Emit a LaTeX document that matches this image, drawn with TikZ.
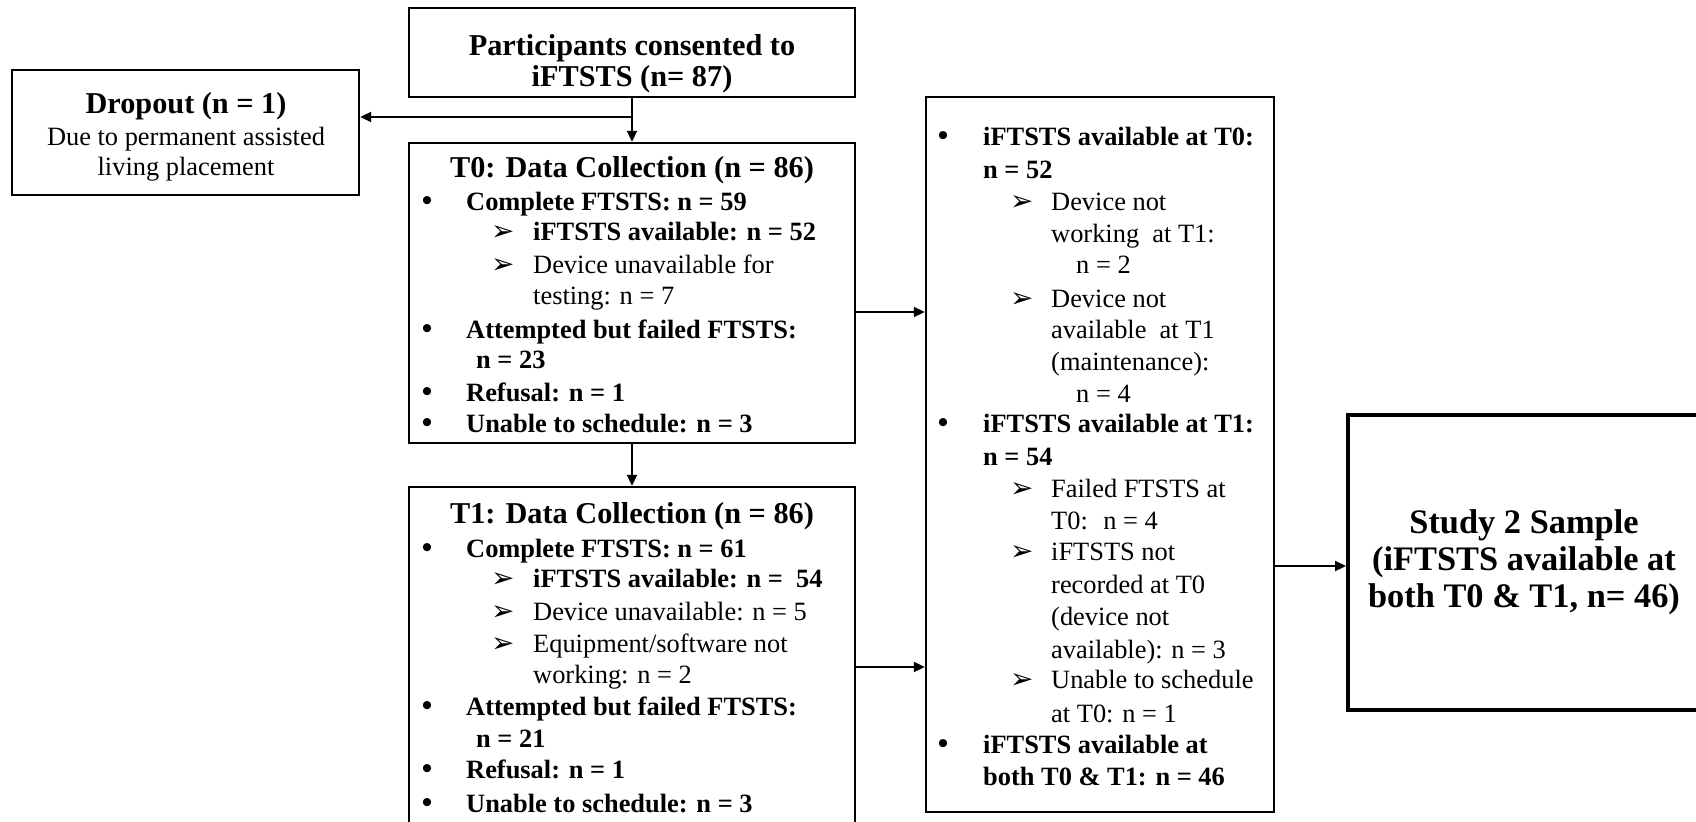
\documentclass[tikz,border=0pt]{standalone}
\usepackage{fontspec}
\setmainfont{Liberation Serif}
\newfontfamily\dvsans{DejaVu Sans}
\usetikzlibrary{arrows.meta}
\newcommand\bodyfnt{\fontsize{26.5}{31.7}\selectfont}
\newcommand\bulfnt{\fontsize{30}{31.7}\selectfont\bfseries}
\newcommand\ttlfnt{\fontsize{30.4}{31}\selectfont\bfseries}
\newcommand\bigfnt{\fontsize{34.5}{37}\selectfont\bfseries}
\newcommand\arrfnt{\dvsans\fontsize{28}{28}\selectfont}
\tikzset{
  box/.style={draw, rectangle, line width=2.4bp, inner sep=0pt},
  thickbox/.style={box, line width=4bp},
  arr/.style={line width=2bp, -{Triangle[length=11bp,width=10bp]}},
  rtxt/.style={anchor=base west, inner sep=0pt, font=\bodyfnt},
  btxt/.style={anchor=base west, inner sep=0pt, font=\bodyfnt\bfseries},
  ttl/.style={anchor=base, inner sep=0pt, font=\ttlfnt},
  ctxt/.style={anchor=base, inner sep=0pt, font=\bodyfnt},
  big/.style={anchor=base, inner sep=0pt, font=\bigfnt},
  bul/.style={anchor=base, inner sep=0pt, font=\bulfnt},
  arw/.style={anchor=base west, inner sep=0pt, font=\arrfnt}
}
\begin{document}
\begin{tikzpicture}[x=1bp,y=-1bp]
\useasboundingbox (0,0) rectangle (1696,822);
\clip (0,0) rectangle (1696,822);

% boxes
\node[box, minimum width=446bp, minimum height=89bp] (top) at (632,52.5) {};
\node[box, minimum width=347bp, minimum height=125bp] (drop) at (185.5,132.5) {};
\node[box, minimum width=446bp, minimum height=300bp] (t0) at (632,293) {};
\node[box, minimum width=446bp, minimum height=343bp] (t1) at (632,658.5) {};
\node[box, minimum width=348bp, minimum height=715bp] (mid) at (1100,454.5) {};
\node[thickbox, minimum width=352bp, minimum height=295bp] (study) at (1524,562.5) {};

% top box text
\node[ttl] (p1) at (632,56) {Participants consented to};
\node[ttl] (p2) at (632,86) {iFTSTS (n= 87)};

% dropout text
\node[ttl] (d1) at (186,113) {Dropout (n = 1)};
\node[ctxt] (d2) at (186,145) {Due to permanent assisted};
\node[ctxt] (d3) at (186,175) {living placement};

% T0 box text
\node[ttl] (a0) at (632,177) {T0: Data Collection (n = 86)};
\node[bul] (ab1) at (427,210) {•};
\node[btxt] (a1) at (466,210) {Complete FTSTS: n = 59};
\node[arw] (aa2) at (491,240) {➢};
\node[btxt] (a2) at (533,240) {iFTSTS available: n = 52};
\node[arw] (aa3) at (491,273) {➢};
\node[rtxt] (a3) at (533,273) {Device unavailable for};
\node[rtxt] (a4) at (533,304) {testing: n = 7};
\node[bul] (ab5) at (427,338) {•};
\node[btxt] (a5) at (466,338) {Attempted but failed FTSTS:};
\node[btxt] (a6) at (476,368) {n = 23};
\node[bul] (ab7) at (427,401) {•};
\node[btxt] (a7) at (466,401) {Refusal: n = 1};
\node[bul] (ab8) at (427,432) {•};
\node[btxt] (a8) at (466,432) {Unable to schedule: n = 3};

% T1 box text
\node[ttl] (b0) at (632,523) {T1: Data Collection (n = 86)};
\node[bul] (bb1) at (427,557) {•};
\node[btxt] (b1) at (466,557) {Complete FTSTS: n = 61};
\node[arw] (ba2) at (491,587) {➢};
\node[btxt] (b2) at (533,587) {iFTSTS available: n = \ 54};
\node[arw] (ba3) at (491,620) {➢};
\node[rtxt] (b3) at (533,620) {Device unavailable: n = 5};
\node[arw] (ba4) at (491,652) {➢};
\node[rtxt] (b4) at (533,652) {Equipment/software not};
\node[rtxt] (b5) at (533,683) {working: n = 2};
\node[bul] (bb6) at (427,715) {•};
\node[btxt] (b6) at (466,715) {Attempted but failed FTSTS:};
\node[btxt] (b7) at (476,747) {n = 21};
\node[bul] (bb8) at (427,778) {•};
\node[btxt] (b8) at (466,778) {Refusal: n = 1};
\node[bul] (bb9) at (427,812) {•};
\node[btxt] (b9) at (466,812) {Unable to schedule: n = 3};

% middle box text
\node[bul] (cb1) at (943,145) {•};
\node[btxt] (c1) at (983,145) {iFTSTS available at T0:};
\node[btxt] (c2) at (983,178) {n = 52};
\node[arw] (ca3) at (1010,210) {➢};
\node[rtxt] (c3) at (1051,210) {Device not};
\node[rtxt] (c4) at (1051,242) {working \ at T1:};
\node[rtxt] (c5) at (1076,273) {n = 2};
\node[arw] (ca6) at (1010,307) {➢};
\node[rtxt] (c6) at (1051,307) {Device not};
\node[rtxt] (c7) at (1051,338) {available \ at T1};
\node[rtxt] (c8) at (1051,370) {(maintenance):};
\node[rtxt] (c9) at (1076,402) {n = 4};
\node[bul] (cb10) at (943,432) {•};
\node[btxt] (c10) at (983,432) {iFTSTS available at T1:};
\node[btxt] (c11) at (983,465) {n = 54};
\node[arw] (ca12) at (1010,497) {➢};
\node[rtxt] (c12) at (1051,497) {Failed FTSTS at};
\node[rtxt] (c13) at (1051,529) {T0: \ n = 4};
\node[arw] (ca14) at (1010,560) {➢};
\node[rtxt] (c14) at (1051,560) {iFTSTS not};
\node[rtxt] (c15) at (1051,593) {recorded at T0};
\node[rtxt] (c16) at (1051,625) {(device not};
\node[rtxt] (c17) at (1051,658) {available): n = 3};
\node[arw] (ca18) at (1010,688) {➢};
\node[rtxt] (c18) at (1051,688) {Unable to schedule};
\node[rtxt] (c19) at (1051,722) {at T0: n = 1};
\node[bul] (cb20) at (943,753) {•};
\node[btxt] (c20) at (983,753) {iFTSTS available at};
\node[btxt] (c21) at (983,785) {both T0 \& T1: n = 46};

% study box text
\node[big] (s1) at (1524,533) {Study 2 Sample};
\node[big] (s2) at (1524,570) {(iFTSTS available at};
\node[big] (s3) at (1524,607) {both T0 \& T1, n= 46)};

% connectors
\coordinate (br) at (632,117);
\coordinate (e0) at ([yshift=-19bp]t0.east);
\coordinate (e1) at ([yshift=-8.5bp]t1.east);
\coordinate (es) at ([yshift=-3.5bp]study.west);
\draw[arr] (top.south) -- (t0.north);
\draw[line width=2bp] (top.south) -- (br);
\draw[arr] (br) -- (drop.east |- br);
\draw[arr] (t0.south) -- (t1.north);
\draw[arr] (e0) -- (mid.west |- e0);
\draw[arr] (e1) -- (mid.west |- e1);
\draw[arr] (mid.east |- es) -- (es);
\end{tikzpicture}
\end{document}
